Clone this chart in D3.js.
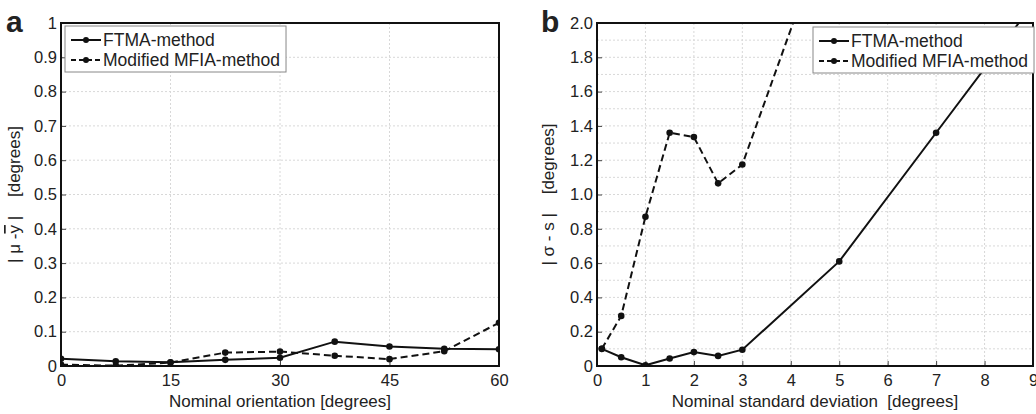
<!DOCTYPE html>
<html><head><meta charset="utf-8">
<script src="https://cdn.jsdelivr.net/npm/d3@7"></script>
<style>
body{margin:0;background:#fff;}
text{font-family:"Liberation Sans",Arial,sans-serif;fill:#222;}
</style></head>
<body><svg id="c" width="1036" height="414"></svg>
<script>
// Panel a data
const aX = [0, 7.5, 15, 22.5, 30, 37.5, 45, 52.5, 60];
const aFTMA = [0.021, 0.014, 0.011, 0.018, 0.024, 0.071, 0.057, 0.050, 0.049];
const aMFIA = [0.004, 0.001, 0.010, 0.039, 0.042, 0.030, 0.020, 0.043, 0.126];
const aXTicks = [0, 15, 30, 45, 60];
const aYTicks = [0, 0.1, 0.2, 0.3, 0.4, 0.5, 0.6, 0.7, 0.8, 0.9, 1];
// Panel b data
const bXFTMA = [0.1, 0.5, 1, 1.5, 2, 2.5, 3, 5, 7, 9];
const bFTMA = [0.100, 0.051, 0.004, 0.044, 0.081, 0.059, 0.095, 0.61, 1.36, 2.11];
const bXMFIA = [0.1, 0.5, 1, 1.5, 2, 2.5, 3, 5];
const bMFIA = [0.100, 0.292, 0.87, 1.36, 1.335, 1.065, 1.175, 2.75];
const bXTicks = [0, 1, 2, 3, 4, 5, 6, 7, 8, 9];
const bYTicks = [0, 0.2, 0.4, 0.6, 0.8, 1.0, 1.2, 1.4, 1.6, 1.8, 2.0];
const bYGrid = d3.range(0, 2.0001, 0.1);
const seriesNames = ["FTMA-method", "Modified MFIA-method"];

const svg = d3.select("#c");
const pTop = 23, pBottom = 366;

function panel(opt){
  const x = d3.scaleLinear().domain(opt.xd).range(opt.xr);
  const y = d3.scaleLinear().domain(opt.yd).range([pBottom, pTop]);
  const g = svg.append("g");
  const cid = "clip" + opt.id;
  svg.append("clipPath").attr("id", cid).append("rect")
    .attr("x", opt.xr[0]).attr("y", pTop).attr("width", opt.xr[1]-opt.xr[0]).attr("height", pBottom-pTop);
  // grid
  g.selectAll(".gy").data(opt.yGrid).join("line")
    .attr("x1", opt.xr[0]).attr("x2", opt.xr[1]).attr("y1", d=>y(d)).attr("y2", d=>y(d))
    .attr("stroke", "#d8d8d8").attr("stroke-width", 1).attr("stroke-dasharray", "2,2");
  g.selectAll(".gx").data(opt.xTicks).join("line")
    .attr("y1", pTop).attr("y2", pBottom).attr("x1", d=>x(d)).attr("x2", d=>x(d))
    .attr("stroke", "#d8d8d8").attr("stroke-width", 1).attr("stroke-dasharray", "2,2");
  // axes
  const ax = g.append("g").attr("transform", `translate(0,${pBottom})`)
    .call(d3.axisBottom(x).tickValues(opt.xTicks).tickSize(-5).tickPadding(8).tickFormat(d3.format("d")));
  const ay = g.append("g").attr("transform", `translate(${opt.xr[0]},0)`)
    .call(d3.axisLeft(y).tickValues(opt.yTicks).tickSize(-5).tickPadding(4).tickFormat(opt.yFmt));
  [ax, ay].forEach(a=>{
    a.select(".domain").remove();
    a.selectAll("line").attr("stroke", "#444");
    a.selectAll("text").style("font-size", "16.5px").attr("fill", "#222");
  });
  // frame
  g.append("rect").attr("x", opt.xr[0]).attr("y", pTop).attr("width", opt.xr[1]-opt.xr[0]).attr("height", pBottom-pTop)
    .attr("fill", "none").attr("stroke", "#111").attr("stroke-width", 2);
  // lines
  const line = d3.line().x(d=>x(d[0])).y(d=>y(d[1]));
  const sers = [
    {xs: opt.x1, ys: opt.y1, dash: null},
    {xs: opt.x2, ys: opt.y2, dash: "7,4"}
  ];
  sers.forEach(s=>{
    const pts = s.xs.map((v,i)=>[v, s.ys[i]]);
    const lg = g.append("g").attr("clip-path", `url(#${cid})`);
    lg.append("path").datum(pts).attr("d", line).attr("fill", "none").attr("stroke", "#111")
      .attr("stroke-width", 2).attr("stroke-dasharray", s.dash);
    lg.selectAll("circle").data(pts).join("circle").attr("cx", d=>x(d[0])).attr("cy", d=>y(d[1]))
      .attr("r", 3.3).attr("fill", "#111");
  });
  // legend
  const lgd = g.append("g");
  const box = lgd.append("rect").attr("fill", "#fff").attr("stroke", "#888").attr("stroke-width", 1);
  const lx = opt.legX, ly = opt.legY;
  const texts = [];
  seriesNames.forEach((n,i)=>{
    const yy = ly + 14 + i*20;
    lgd.append("line").attr("x1", lx+6).attr("x2", lx+36).attr("y1", yy).attr("y2", yy)
      .attr("stroke", "#111").attr("stroke-width", 2).attr("stroke-dasharray", i ? "5,3" : null);
    lgd.append("circle").attr("cx", lx+21).attr("cy", yy).attr("r", 3).attr("fill", "#111");
    texts.push(lgd.append("text").attr("x", lx+38).attr("y", yy+6).style("font-size", "17.5px").text(n));
  });
  const w = d3.max(texts, t=>t.node().getComputedTextLength());
  box.attr("x", lx).attr("y", ly).attr("width", w + 44).attr("height", 46);
  // y label
  g.append("text").attr("transform", `translate(${opt.ylx},${(pTop+pBottom)/2}) rotate(-90)`)
    .attr("text-anchor", "middle").style("font-size", "17px").style("white-space", "pre").call(opt.ylab);
  // x label
  g.append("text").attr("x", (opt.xr[0]+opt.xr[1])/2).attr("y", 407).attr("text-anchor", "middle")
    .style("font-size", "17px").style("white-space", "pre").text(opt.xlab);
  // panel letter
  g.append("text").attr("x", opt.letX).attr("y", 32).style("font-size", "30px").style("font-weight", "bold")
    .attr("fill", "#111").text(opt.letter);
}

panel({id:"a", xd:[0,60], xr:[61,499], yd:[0,1], xTicks:aXTicks, yTicks:aYTicks, yGrid:aYTicks,
  yFmt: d=> d===0 ? "0" : (d===1 ? "1" : d3.format(".1f")(d)),
  x1:aX, y1:aFTMA, x2:aX, y2:aMFIA, legX:65, legY:26, ylx:20,
  ylab: t=>{ t.append("tspan").text("| μ -");
             t.append("tspan").style("text-decoration","overline").text("y");
             t.append("tspan").text(" |    [degrees]"); },
  xlab:"Nominal orientation [degrees]", letter:"a", letX:6});

panel({id:"b", xd:[0,9], xr:[597,1033], yd:[0,2], xTicks:bXTicks, yTicks:bYTicks, yGrid:bYGrid,
  yFmt: d=> d===0 ? "0" : d3.format(".1f")(d),
  x1:bXFTMA, y1:bFTMA, x2:bXMFIA, y2:bMFIA, legX:813, legY:27, ylx:554,
  ylab: t=>{ t.text("| σ - s |    [degrees]"); },
  xlab:"Nominal standard deviation  [degrees]", letter:"b", letX:541});
</script></body></html>
